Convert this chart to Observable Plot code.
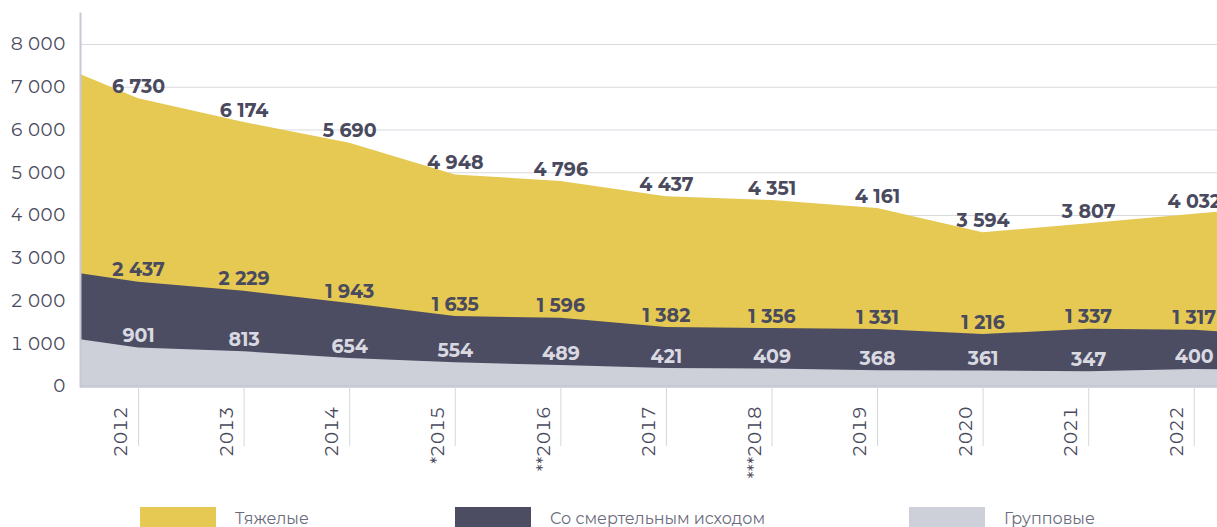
<!DOCTYPE html>
<html><head><meta charset="utf-8">
<script src="https://cdn.jsdelivr.net/npm/d3@7"></script>
<script src="https://cdn.jsdelivr.net/npm/@observablehq/plot@0.6"></script>
<style>
html,body{margin:0;padding:0;background:#fff;}
body{font-family:Montserrat, Inter, "Noto Sans", sans-serif;width:1217px;overflow:hidden;}
#legend{position:relative;height:27px;}
.sw{position:absolute;top:7px;width:76px;height:22px;}
.lb{position:absolute;top:9px;font-size:16px;line-height:20px;color:#6b6b7b;white-space:nowrap;}
</style></head><body>
<div id="chart"></div>
<div id="legend"></div>
<script>
// Data
const years = [2012, 2013, 2014, 2015, 2016, 2017, 2018, 2019, 2020, 2021, 2022];
const yearLabels = ["2012", "2013", "2014", "*2015", "**2016", "2017", "***2018", "2019", "2020", "2021", "2022"];
const severe = [6730, 6174, 5690, 4948, 4796, 4437, 4351, 4161, 3594, 3807, 4032];
const fatal = [2437, 2229, 1943, 1635, 1596, 1382, 1356, 1331, 1216, 1337, 1317];
const group = [901, 813, 654, 554, 489, 421, 409, 368, 361, 347, 400];
// values of the areas beyond the plotted years (cut off at the chart's edges)
const edgeYears = [2011, 2023];
const severeEdge = [7763, 4237];
const fatalEdge = [2799, 1150];
const groupEdge = [1248, 355];
const seriesNames = ["Тяжелые", "Со смертельным исходом", "Групповые"];
const seriesColors = ["#e5c953", "#4c4c62", "#cdd0d9"];

const rows = years.map((y, i) => ({year: y, severe: severe[i], fatal: fatal[i], group: group[i]}));
const areaRows = [
  {year: edgeYears[0], severe: severeEdge[0], fatal: fatalEdge[0], group: groupEdge[0]},
  ...rows,
  {year: edgeYears[1], severe: severeEdge[1], fatal: fatalEdge[1], group: groupEdge[1]}
];
const fmt = d => d3.format(",")(d).replace(/,/g, " ");
const textColor = "#4a4a5e";

const chart = Plot.plot({
  width: 1217,
  height: 500,
  marginLeft: 80,
  marginRight: 0,
  marginTop: 13,
  marginBottom: 114,
  x: {type: "linear", domain: [2011.45, 2022.22]},
  y: {domain: [0, 8725]},
  style: {fontFamily: "Montserrat, Inter, 'Noto Sans', sans-serif", background: "#fff", overflow: "hidden"},
  marks: [
    Plot.gridY({ticks: d3.range(1000, 9000, 1000), stroke: "#d9dae0", strokeOpacity: 1}),
    Plot.areaY(areaRows, {x: "year", y1: 0, y2: "severe", fill: seriesColors[0], clip: true}),
    Plot.areaY(areaRows, {x: "year", y1: 0, y2: "fatal", fill: seriesColors[1], clip: true}),
    Plot.areaY(areaRows, {x: "year", y1: 0, y2: "group", fill: seriesColors[2], clip: true}),
    Plot.ruleY([0], {stroke: "#c6c9d3", strokeWidth: 2.5}),
    Plot.frame({anchor: "left", stroke: "#c6c9d3", strokeWidth: 2}),
    Plot.axisY({ticks: d3.range(0, 9000, 1000), tickSize: 0, tickPadding: 15, tickFormat: fmt, fontSize: 18, fill: textColor, label: null}),
    Plot.axisX({ticks: years, tickSize: 60, tickFormat: () => "", stroke: "#d6d7dc", label: null}),
    Plot.axisX({ticks: years, tickSize: 0, tickPadding: 20, tickRotate: -90, dx: -17,
      tickFormat: d => yearLabels[years.indexOf(d)], fontSize: 18, fill: textColor, label: null}),
    Plot.text(rows, {x: "year", y: "severe", text: d => fmt(d.severe), dy: -12, fontSize: 19, fontWeight: 700, fill: textColor}),
    Plot.text(rows, {x: "year", y: "fatal", text: d => fmt(d.fatal), dy: -12, fontSize: 19, fontWeight: 700, fill: textColor}),
    Plot.text(rows, {x: "year", y: "group", text: d => fmt(d.group), dy: -12, fontSize: 19, fontWeight: 700, fill: "#d8d9e1"})
  ]
});
document.getElementById("chart").appendChild(chart);

const legendLeft = [140, 455, 909];
const legend = document.getElementById("legend");
seriesNames.forEach((name, i) => {
  const sw = document.createElement("div");
  sw.className = "sw";
  sw.style.left = legendLeft[i] + "px";
  sw.style.background = seriesColors[i];
  legend.appendChild(sw);
  const lb = document.createElement("div");
  lb.className = "lb";
  lb.style.left = (legendLeft[i] + 95) + "px";
  lb.textContent = name;
  legend.appendChild(lb);
});
</script>
</body></html>
